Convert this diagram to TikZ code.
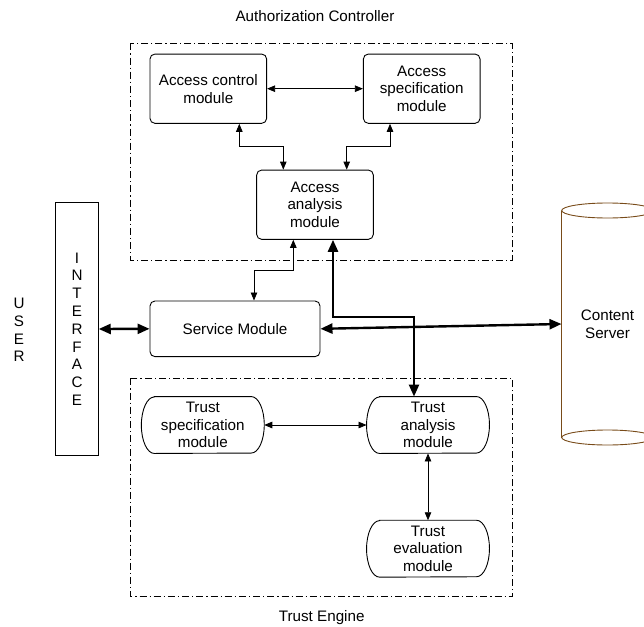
\documentclass[tikz,border=0pt]{standalone}
\usepackage{fontspec}
\setmainfont{Liberation Sans}
\usetikzlibrary{arrows.meta}
\definecolor{srvbrown}{RGB}{120,75,25}
\newcommand{\trustoutline}[1]{\draw [line width=0.9pt] ([xshift=13pt]#1.north west) -- ([xshift=-13pt]#1.north east) arc [start angle=90, end angle=-90, x radius=13pt, y radius=28.25pt] -- ([xshift=13pt]#1.south west) arc [start angle=270, end angle=90, x radius=13pt, y radius=28.25pt] -- cycle;}
\begin{document}
\begin{tikzpicture}[x=1pt, y=-1pt, font=\fontsize{15.2}{17.8}\selectfont,
        modbox/.style={draw, rounded corners=5pt, line width=0.9pt, align=center, inner sep=0pt, minimum width=116.7pt, minimum height=69.3pt},
        trustbox/.style={align=center, inner sep=0pt, minimum width=122.5pt, minimum height=56.5pt},
        groupline/.style={line width=0.8pt, dash pattern=on 7pt off 3pt on 1.2pt off 3pt},
        link/.style={{Triangle[length=8pt,width=6.5pt]}-{Triangle[length=8pt,width=6.5pt]}, line width=0.8pt},
        biglink/.style={{Triangle[length=12pt,width=10pt]}-{Triangle[length=12pt,width=10pt]}, line width=2.4pt}]
        \useasboundingbox (0,0) rectangle (644,626);
        \draw [groupline] (130.7,43.3) rectangle (512,260);
        \draw [groupline] (130.7,378.3) rectangle (512,596.7);
        \node [anchor=base] (actitle) at (315,21.7) {Authorization Controller};
        \node [anchor=base] (tetitle) at (321.7,621.7) {Trust Engine};
        \node [modbox] (acm) at (208.3,88.7) {Access control\\module};
        \node [modbox] (asm) at (421.7,88.7) {Access\\specification\\module};
        \node [modbox] (aam) at (315,204.7) {Access\\analysis\\module};
        \node [draw, rounded corners=5pt, line width=0.9pt, minimum width=170pt, minimum height=55.7pt] (svc) at (235,328.8) {Service Module};
        \node [draw, line width=0.9pt, align=center, inner sep=0pt, minimum width=42.6pt, minimum height=252.6pt] (iface) at (77,329) {I\\N\\T\\E\\R\\F\\A\\C\\E};
        \node [align=center] (user) at (19,330) {U\\S\\E\\R};
        \node [trustbox] (tsm) at (202.8,425) {Trust\\specification\\module};
        \node [trustbox] (tam) at (428,425) {Trust\\analysis\\module};
        \node [trustbox] (tem) at (428,548.7) {Trust\\evaluation\\module};
        \trustoutline{tsm}
        \trustoutline{tam}
        \trustoutline{tem}
        \node [align=center, inner sep=0pt, minimum width=91.6pt, minimum height=226.6pt] (srv) at (607.5,324) {Content\\Server};
        \draw [srvbrown, line width=0.9pt] (srv.north west) -- (srv.south west) (srv.north east) -- (srv.south east);
        \draw [srvbrown, line width=0.9pt] (srv.north) ellipse [x radius=45.8, y radius=7.5];
        \draw [srvbrown, line width=0.9pt] (srv.south) ellipse [x radius=45.8, y radius=7.5];
        \draw [link] (acm) -- (asm);
        \draw [link] ([xshift=31pt]acm.south) -- ++(0,22.7) -| ([xshift=-31.7pt]aam.north);
        \draw [link] ([xshift=-31.7pt]asm.south) -- ++(0,22.7) -| ([xshift=31.7pt]aam.north);
        \draw [link] ([xshift=-21.7pt]aam.south) -- ++(0,30.7) -| ([xshift=19pt]svc.north);
        \draw [biglink] ([xshift=18pt]aam.south) -- ++(0,77.4) -| ([xshift=-14pt]tam.north);
        \draw [biglink] (svc.east) -- (srv.west);
        \draw [biglink] (iface.east) -- (svc.west);
        \draw [link] (tsm) -- (tam);
        \draw [link] (tam) -- (tem);
\end{tikzpicture}
\end{document}
